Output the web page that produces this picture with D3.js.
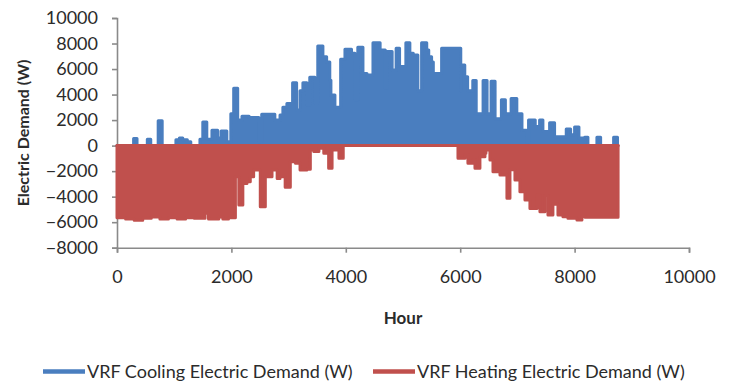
<!DOCTYPE html>
<html><head><meta charset="utf-8">
<script src="https://cdn.jsdelivr.net/npm/d3@7/dist/d3.min.js"></script>
<style>
body{margin:0;background:#fff;}
text{font-family:Lato,"Open Sans",sans-serif;fill:#2b2b2b;}
</style></head>
<body><svg id="c" width="730" height="381"></svg>
<script>
// Segment start hours and peak values (step envelope)
const coolHours = [0,290,350,530,590,720,790,1030,1090,1150,1230,1290,1450,1500,1570,1660,1760,1820,1920,1990,2040,2110,2185,2310,2480,2530,2760,2850,2900,2970,3070,3140,3200,3250,3320,3370,3460,3510,3600,3665,3720,3740,3810,3910,3985,4100,4160,4210,4300,4370,4475,4600,4690,4720,4810,4880,4940,5050,5120,5180,5260,5325,5415,5450,5500,5530,5675,6010,6020,6080,6130,6220,6280,6400,6470,6540,6610,6720,6790,6890,6990,7080,7160,7195,7312,7388,7446,7563,7650,7854,7930,8000,8076,8175,8233,8390,8455,8682,8750];
const coolValues = [0,550,0,500,0,1950,0,450,600,450,300,0,500,1850,500,1200,600,1150,300,2500,4500,2000,2300,2200,300,2450,2000,2400,3000,3300,4930,2800,4300,4930,3200,5350,3300,7800,6970,6560,5120,3970,3000,6770,7550,7240,3600,7700,5660,5530,8070,7500,4500,7370,5920,7630,6190,8070,7240,7110,4300,8070,7500,6970,6560,5660,7630,4300,6320,5400,4300,5100,2500,5100,2500,5050,2100,3600,2500,3700,2500,1200,300,2000,1500,2000,1100,1800,700,1300,850,1450,600,650,0,650,0,650,0];

const heatHours = [0,150,300,450,600,750,900,1050,1200,1350,1540,1600,1780,1850,1950,2070,2130,2200,2272,2330,2389,2505,2593,2710,2800,2850,2940,3030,3120,3200,3320,3380,3440,3530,3615,3700,3760,3880,3955,5961,6083,6135,6223,6258,6345,6433,6450,6520,6573,6695,6817,6870,6957,7044,7132,7219,7342,7394,7481,7534,7621,7709,7796,7883,8041,8128,8181];
const heatValues = [-5650,-5750,-5850,-5700,-5600,-5750,-5650,-5750,-5650,-5700,-5300,-5750,-5600,-5750,-5650,-2440,-4650,-2960,-2830,-2440,-1910,-4790,-2440,-1910,-2570,-2440,-3270,-1260,-1390,-1910,-1850,-345,-470,-215,-600,-1780,-345,-1000,0,-1000,-700,-1390,-1100,-1780,-870,-600,-340,-1130,-2040,-2300,-4130,-1900,-2700,-3610,-4260,-4920,-3890,-5180,-3900,-5440,-4600,-5440,-5570,-5700,-5830,-5550,-5620];

const endHour = 8760;
const xTicks = [0,2000,4000,6000,8000,10000];
const yTicks = [-8000,-6000,-4000,-2000,0,2000,4000,6000,8000,10000];
const seriesNames = ["VRF Cooling Electric Demand (W)","VRF Heating Electric Demand (W)"];
const colors = ["#4a7ebf","#c0504d"];

const svg = d3.select("#c");
const x = d3.scaleLinear().domain([0,10000]).range([117,689]);
const y = d3.scaleLinear().domain([-8000,10000]).range([247.7,18]);

function pts(hours, vals){
  const p = hours.map((h,i)=>({h, v: vals[i]}));
  p.push({h:endHour, v: vals[vals.length-1]});
  return p;
}
const area = d3.area().curve(d3.curveStepAfter).x(d=>x(d.h)).y0(y(0)).y1(d=>y(d.v));

// axes
const axisColor = "#8a8a8a";
const gy = svg.append("g").attr("transform","translate(117,0)")
  .call(d3.axisLeft(y).tickValues(yTicks).tickSize(5).tickPadding(14).tickFormat(d3.format("d")));
const gx = svg.append("g").attr("transform","translate(0,247.7)")
  .call(d3.axisBottom(x).tickValues(xTicks).tickSize(5).tickPadding(18).tickFormat(d3.format("d")));
[gx,gy].forEach(g=>{
  g.selectAll("path.domain").attr("stroke",axisColor).attr("stroke-width",1.6);
  g.selectAll(".tick line").attr("stroke",axisColor).attr("stroke-width",1.6);
  g.selectAll("text").style("font-size","18px").style("fill","#2b2b2b").attr("font-family","Lato");
});

// series
const cool = pts(coolHours, coolValues);
const heat = pts(heatHours, heatValues);
svg.append("path").datum(cool).attr("d",area)
  .attr("fill",colors[0]).attr("stroke",colors[0]).attr("stroke-width",3).attr("stroke-linejoin","round");
svg.append("path").datum(heat).attr("d",area)
  .attr("fill",colors[1]).attr("stroke",colors[1]).attr("stroke-width",3).attr("stroke-linejoin","round");
svg.append("line").attr("x1",x(0)).attr("x2",x(endHour)).attr("y1",y(0)).attr("y2",y(0))
  .attr("stroke",colors[1]).attr("stroke-width",3).attr("stroke-linecap","round");

// titles
svg.append("text").attr("x",403).attr("y",324).attr("text-anchor","middle")
  .style("font-size","17px").style("font-weight","bold").text("Hour");
svg.append("text").attr("transform","translate(29,133) rotate(-90)").attr("text-anchor","middle")
  .style("font-size","16px").style("font-weight","bold").text("Electric Demand (W)");

// legend
const leg = [{x0:43,tx:87},{x0:373,tx:417}];
leg.forEach((l,i)=>{
  svg.append("line").attr("x1",l.x0).attr("x2",l.x0+42).attr("y1",371.5).attr("y2",371.5)
    .attr("stroke",colors[i]).attr("stroke-width",4.5);
  svg.append("text").attr("x",l.tx).attr("y",378).style("font-size","18px").text(seriesNames[i]);
});
</script></body></html>
